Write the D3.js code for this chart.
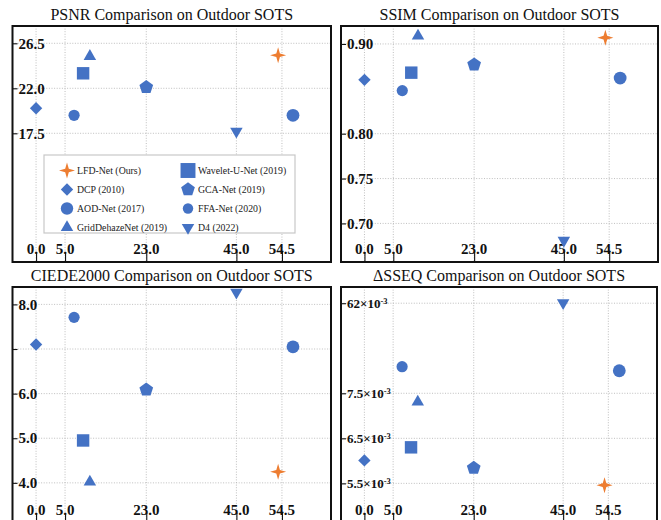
<!DOCTYPE html>
<html>
<head>
<meta charset="utf-8">
<script src="https://cdn.jsdelivr.net/npm/d3@7"></script>
<style>
  body { margin: 0; background: #fff; }
  svg { display: block; }
  .title { font-family: "Liberation Serif", "Times New Roman", serif; font-size: 16px; fill: #111; }
  .tick-label { font-family: "Liberation Serif", "Times New Roman", serif; font-size: 15px; font-weight: bold; fill: #111; }
  .legend-text { font-family: "Liberation Serif", "Times New Roman", serif; font-size: 9.8px; fill: #222; }
</style>
</head>
<body>
<div id="content"></div>
<script>
// Methods compared in every panel
var methods = ["LFD-Net (Ours)", "DCP (2010)", "AOD-Net (2017)", "GridDehazeNet (2019)",
               "Wavelet-U-Net (2019)", "GCA-Net (2019)", "FFA-Net (2020)", "D4 (2022)"];
var shapes = ["star", "diamond", "circle", "triangle", "square", "pentagon", "circle", "triangleDown"];

// Horizontal value of every method
var xValues = [53.7, 0.0, 7.0, 10.5, 9.0, 23.0, 56.8, 45.0];
var xTicks = [0, 5, 23, 45, 54.5];
var xTickLabels = ["0.0", "5.0", "23.0", "45.0", "54.5"];

// Metric values, same order as methods
var psnrValues = [25.3, 20.0, 19.3, 25.2, 23.5, 22.1, 19.3, 17.7];
var ssimValues = [0.907, 0.860, 0.848, 0.909, 0.868, 0.877, 0.862, 0.681];
var ciedeValues = [4.25, 7.10, 7.71, 4.02, 4.95, 6.09, 7.05, 8.27];
// SSEQ in units of 1e-3, on the axis as it is drawn (top tick labelled "62")
var sseqValues = [5.46, 6.01, 8.09, 7.31, 6.30, 5.84, 8.00, 9.51];

var psnrTicks = [17.5, 22.0, 26.5];
var psnrTickLabels = ["17.5", "22.0", "26.5"];
var ssimTicks = [0.70, 0.75, 0.80, 0.90];
var ssimTickLabels = ["0.70", "0.75", "0.80", "0.90"];
var ciedeTicks = [4.0, 5.0, 6.0, 7.0, 8.0];
var ciedeTickLabels = ["4.0", "5.0", "6.0", "", "8.0"];
var sseqTicks = [5.5, 6.5, 7.5, 9.5];
var sseqTickLabels = ["5.5", "6.5", "7.5", "62"];

var svgWidth = 661;
var svgHeight = 520;

var blue = "#4472c4";
var orange = "#ed7d31";

var svg = d3.select("#content").append("svg")
    .attr("width", svgWidth)
    .attr("height", svgHeight);

// Marker paths
function polygonPath(n, r, rot) {
    var pts = [];
    for (var i = 0; i < n; i++) {
        var a = rot + i * 2 * Math.PI / n;
        pts.push([r * Math.cos(a), r * Math.sin(a)]);
    }
    return "M" + pts.map(function (p) { return p[0].toFixed(2) + "," + p[1].toFixed(2); }).join("L") + "Z";
}

function starPath(r) {
    var pts = [];
    for (var i = 0; i < 8; i++) {
        var a = -Math.PI / 2 + i * Math.PI / 4;
        var rr = (i % 2 == 0) ? r : r * 0.32;
        pts.push([rr * Math.cos(a), rr * Math.sin(a)]);
    }
    return "M" + pts.map(function (p) { return p[0].toFixed(2) + "," + p[1].toFixed(2); }).join("L") + "Z";
}

function markerPath(shape, s) {
    if (shape == "star") return starPath(8 * s);
    if (shape == "diamond") return polygonPath(4, 6.2 * s, 0);
    if (shape == "square") return polygonPath(4, 8.8 * s, Math.PI / 4);
    if (shape == "triangle") return polygonPath(3, 7.2 * s, -Math.PI / 2);
    if (shape == "triangleDown") return polygonPath(3, 7.2 * s, Math.PI / 2);
    if (shape == "pentagon") return polygonPath(5, 7.2 * s, -Math.PI / 2);
    return null;
}

function drawMarker(g, i, cx, cy, s, legend) {
    var color = i == 0 ? orange : blue;
    if (shapes[i] == "circle") {
        var r = (i == 2) ? (legend ? 6.2 : 5.6) : (legend ? 5.2 : 6.4);
        g.append("circle").attr("cx", cx).attr("cy", cy).attr("r", r).attr("fill", color);
    } else {
        g.append("path")
            .attr("transform", "translate(" + cx + "," + cy + ")")
            .attr("d", markerPath(shapes[i], s))
            .attr("fill", color);
    }
}

function drawPanel(p) {
    var g = svg.append("g").attr("transform", "translate(" + p.x + "," + p.y + ")");

    var xScale = d3.scaleLinear()
        .domain(xTicks)
        .range([0.074, 0.165, 0.42, 0.703, 0.846].map(function (f) { return f * p.w; }));
    var yScale = d3.scaleLinear().domain(p.yDomain).range([p.h, 0]);

    // Title
    svg.append("text")
        .attr("class", "title")
        .attr("x", p.x + p.w / 2)
        .attr("y", p.y - 6)
        .attr("text-anchor", "middle")
        .text(p.title);

    // Grid lines
    g.selectAll(".vgrid").data(xTicks).enter().append("line")
        .attr("x1", function (d) { return xScale(d); })
        .attr("x2", function (d) { return xScale(d); })
        .attr("y1", 0).attr("y2", p.h)
        .attr("stroke", "#b8b8b8").attr("stroke-width", 0.9).attr("stroke-dasharray", "1,1.6");
    g.selectAll(".hgrid").data(p.yTicks).enter().append("line")
        .attr("y1", function (d) { return yScale(d); })
        .attr("y2", function (d) { return yScale(d); })
        .attr("x1", 0).attr("x2", p.w)
        .attr("stroke", "#b8b8b8").attr("stroke-width", 0.9).attr("stroke-dasharray", "1,1.6");

    // Axes, ticks inside the frame
    var xAxis = d3.axisBottom(xScale).tickValues(xTicks).tickSize(-10).tickFormat("");
    var xg = g.append("g").attr("transform", "translate(0," + p.h + ")").call(xAxis);
    xg.select(".domain").remove();
    xg.selectAll("line").attr("stroke", "#111").attr("stroke-width", 1.1);
    g.selectAll(".xlab").data(xTicks).enter().append("text")
        .attr("class", "tick-label")
        .attr("x", function (d) { return xScale(d); })
        .attr("y", p.h - 8)
        .attr("text-anchor", "middle")
        .text(function (d, i) { return xTickLabels[i]; });

    var yAxis = d3.axisLeft(yScale).tickValues(p.yTicks).tickSize(-5).tickFormat("");
    var yg = g.append("g").call(yAxis);
    yg.select(".domain").remove();
    yg.selectAll("line").attr("stroke", "#111").attr("stroke-width", 1.1);
    p.yTicks.forEach(function (d, i) {
        if (p.yTickLabels[i] == "") return;
        var t = g.append("text")
            .attr("class", "tick-label")
            .attr("x", 6)
            .attr("y", yScale(d))
            .attr("dy", "0.35em");
        if (p.sci) {
            t.style("font-size", "13px");
            t.append("tspan").text(p.yTickLabels[i] + "\u00d710");
            t.append("tspan").attr("dy", "-0.5em").style("font-size", "8.5px").text("-3");
        } else {
            t.text(p.yTickLabels[i]);
        }
    });

    // Points
    p.values.forEach(function (v, i) {
        drawMarker(g, i, xScale(xValues[i]), yScale(v), 1, false);
    });

    // Frame
    g.append("rect")
        .attr("x", 0).attr("y", 0).attr("width", p.w).attr("height", p.h)
        .attr("fill", "none").attr("stroke", "#111").attr("stroke-width", 2);
    return g;
}

var tl = drawPanel({ x: 12.5, y: 26, w: 318.5, h: 236, title: "PSNR Comparison on Outdoor SOTS",
    yDomain: [4.63, 28.23], yTicks: psnrTicks, yTickLabels: psnrTickLabels, values: psnrValues });
drawPanel({ x: 341, y: 26, w: 317, h: 236, title: "SSIM Comparison on Outdoor SOTS",
    yDomain: [0.657, 0.920], yTicks: ssimTicks, yTickLabels: ssimTickLabels, values: ssimValues });
drawPanel({ x: 12.5, y: 287, w: 318.5, h: 236, title: "CIEDE2000 Comparison on Outdoor SOTS",
    yDomain: [3.10, 8.39], yTicks: ciedeTicks, yTickLabels: ciedeTickLabels, values: ciedeValues });
drawPanel({ x: 341, y: 287, w: 316, h: 236, title: "\u0394SSEQ Comparison on Outdoor SOTS",
    yDomain: [4.62, 9.86], yTicks: sseqTicks, yTickLabels: sseqTickLabels, values: sseqValues, sci: true });

// Legend in the PSNR panel
var legend = tl.append("g").attr("transform", "translate(31.5,129)");
legend.append("rect")
    .attr("width", 251).attr("height", 78)
    .attr("fill", "#fff").attr("stroke", "#c8c8c8").attr("stroke-width", 1.2);
methods.forEach(function (name, i) {
    var col = Math.floor(i / 4), row = i % 4;
    var mx = col == 0 ? 23 : 144;
    var my = 15.5 + row * 19;
    drawMarker(legend, i, mx, my, i == 4 ? 1.2 : 1, true);
    legend.append("text")
        .attr("class", "legend-text")
        .attr("x", mx + 10)
        .attr("y", my)
        .attr("dy", "0.35em")
        .text(name);
});
</script>
</body>
</html>
